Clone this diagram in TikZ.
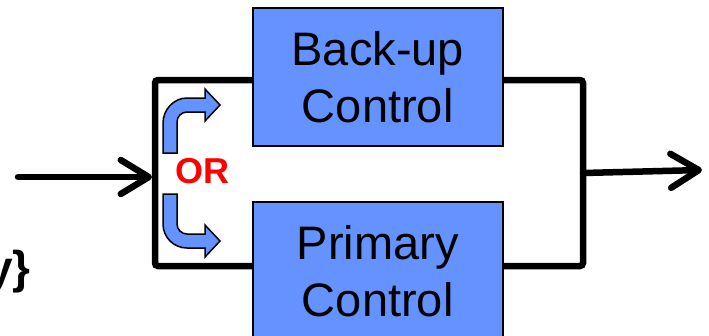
\documentclass[tikz,border=0pt]{standalone}
\usepackage{fontspec}
\setmainfont{Liberation Sans}
\usetikzlibrary{arrows.meta}
\definecolor{boxblue}{RGB}{100,146,255}
\definecolor{orred}{RGB}{255,0,0}
\tikzset{
  ctrlbox/.style={draw=black, line width=1.5pt, fill=boxblue, minimum width=250pt, minimum height=138pt,
    inner sep=0pt, align=center, font=\fontsize{47}{57}\selectfont, anchor=north west},
  frameline/.style={line width=6.5pt, rounded corners=3pt},
  bigarrow/.style={line width=6.5pt, line cap=round,
    -{Straight Barb[length=28pt, width=34pt, line cap=round, line join=round]}},
  bluearrow/.style={draw=black, line width=1.5pt, fill=boxblue, line join=miter}
}
\begin{document}
\begin{tikzpicture}[x=1pt, y=-1pt]
\useasboundingbox (0,0) rectangle (709,335);
\clip (0,0) rectangle (709,335);
% frame corners
\coordinate (ftl) at (155,80);
\coordinate (fbr) at (583,266);
\draw[frameline] (ftl) rectangle (fbr);
% control boxes
\node[ctrlbox] (backup) at (252,7) {Back-up\\Control};
\node[ctrlbox] (primary) at (252,201) {Primary\\Control};
% input arrow
\coordinate (inS) at (18,177);
\coordinate (inE) at (152,177);
\draw[bigarrow] (inS) -- (inE);
% output arrow
\coordinate (outS) at (583,173);
\coordinate (outE) at (702,170);
\draw[bigarrow] (outS) -- (outE);
% OR label
\node[font=\fontsize{36}{40}\selectfont\bfseries, text=orred, inner sep=0pt] (or) at (202,171) {OR};
% partial text at left (cut off at the edge, as in the reference)
\node[font=\fontsize{46}{50}\selectfont\bfseries, anchor=base east, inner sep=0pt] (frag) at (31,283) {y\}};
% upper blue bent arrow
\path[bluearrow] (163,153) -- (163,123) .. controls (163,109.7) and (173.7,98) .. (187,98)
  -- (205,98) -- (205,89) -- (220,105) -- (205,121) -- (205,112) -- (187,112)
  .. controls (181.5,112) and (177,116.5) .. (177,122) -- (177,153) -- cycle;
% lower blue bent arrow
\path[bluearrow] (163,194) -- (163,224) .. controls (163,237.3) and (173.7,248) .. (187,248)
  -- (205,248) -- (205,257) -- (220,241) -- (205,225) -- (205,234) -- (187,234)
  .. controls (181.5,234) and (177,229.5) .. (177,224) -- (177,194) -- cycle;
\end{tikzpicture}
\end{document}
